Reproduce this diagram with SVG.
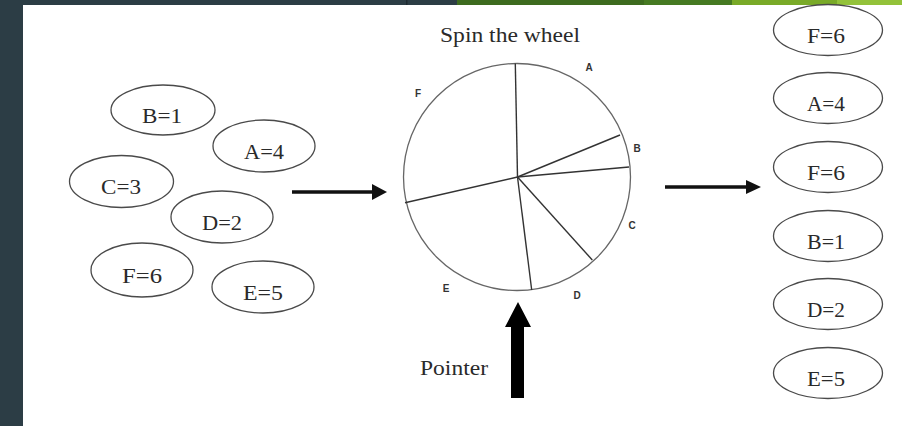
<svg xmlns="http://www.w3.org/2000/svg" width="902" height="426" viewBox="0 0 902 426">
<defs>
<style>
.el{fill:#fff;stroke:#4a4a4a;stroke-width:1.3}
.lb{font-family:"Liberation Serif","Times New Roman",serif;font-size:20px;fill:#2a2a2a;text-anchor:middle}
.wl{font-family:"Liberation Sans",Arial,sans-serif;font-size:10px;font-weight:bold;fill:#333;text-anchor:middle}
.sp{stroke:#333;stroke-width:1.4}
.ar{stroke:#111;stroke-width:3.5;fill:none}
.hd{fill:#111}
</style>
</defs>
<rect x="0" y="0" width="902" height="426" fill="#fff"/>
<rect x="0" y="0" width="23" height="426" fill="#2c3d45"/>
<rect x="0" y="0" width="457" height="5" fill="#2c3d45"/>
<rect x="406" y="0" width="1.5" height="5" fill="#1e2a30"/>
<rect x="457" y="0" width="187" height="5" fill="#3d6b1f"/>
<rect x="644" y="0" width="88" height="5" fill="#467a22"/>
<rect x="732" y="0" width="105" height="5" fill="#79aa28"/>
<rect x="837" y="0" width="65" height="5" fill="#93c23a"/>

<text class="lb" x="510" y="42" textLength="140" lengthAdjust="spacingAndGlyphs">Spin the wheel</text>

<g id="wheel">
<circle cx="517" cy="177" r="113.5" fill="#fff" stroke="#666" stroke-width="1.3"/>
<line class="sp" x1="517.5" y1="177" x2="515.3" y2="63.5"/>
<line class="sp" x1="517.5" y1="177" x2="620" y2="135"/>
<line class="sp" x1="517.5" y1="177" x2="629" y2="167"/>
<line class="sp" x1="517.5" y1="177" x2="592.3" y2="260"/>
<line class="sp" x1="517.5" y1="177" x2="531.7" y2="290"/>
<line class="sp" x1="517.5" y1="177" x2="405" y2="202.7"/>
<text class="wl" x="589" y="71">A</text>
<text class="wl" x="418" y="97">F</text>
<text class="wl" x="637" y="152">B</text>
<text class="wl" x="632" y="229">C</text>
<text class="wl" x="577" y="299">D</text>
<text class="wl" x="446" y="292">E</text>
</g>

<g id="in-b1"><ellipse class="el" cx="163" cy="110" rx="52" ry="25"/><text class="lb" x="162" y="123" textLength="40" lengthAdjust="spacingAndGlyphs">B=1</text></g>
<g id="in-a4"><ellipse class="el" cx="264" cy="146" rx="51" ry="26"/><text class="lb" x="264" y="159" textLength="40" lengthAdjust="spacingAndGlyphs">A=4</text></g>
<g id="in-c3"><ellipse class="el" cx="121.5" cy="181.5" rx="52" ry="26"/><text class="lb" x="121" y="194" textLength="40" lengthAdjust="spacingAndGlyphs">C=3</text></g>
<g id="in-d2"><ellipse class="el" cx="222" cy="217" rx="51" ry="26"/><text class="lb" x="222" y="230" textLength="40" lengthAdjust="spacingAndGlyphs">D=2</text></g>
<g id="in-f6"><ellipse class="el" cx="142" cy="270" rx="51" ry="27"/><text class="lb" x="142" y="283" textLength="40" lengthAdjust="spacingAndGlyphs">F=6</text></g>
<g id="in-e5"><ellipse class="el" cx="263" cy="287" rx="51" ry="26"/><text class="lb" x="263" y="300" textLength="40" lengthAdjust="spacingAndGlyphs">E=5</text></g>

<g id="out-1"><ellipse class="el" cx="828" cy="30" rx="54.5" ry="25.5"/><text class="lb" x="826" y="43" textLength="38" lengthAdjust="spacingAndGlyphs">F=6</text></g>
<g id="out-2"><ellipse class="el" cx="828" cy="98" rx="54.5" ry="25.5"/><text class="lb" x="826" y="111" textLength="38" lengthAdjust="spacingAndGlyphs">A=4</text></g>
<g id="out-3"><ellipse class="el" cx="828" cy="167" rx="54.5" ry="25.5"/><text class="lb" x="826" y="180" textLength="38" lengthAdjust="spacingAndGlyphs">F=6</text></g>
<g id="out-4"><ellipse class="el" cx="828" cy="236" rx="54.5" ry="25.5"/><text class="lb" x="826" y="249" textLength="38" lengthAdjust="spacingAndGlyphs">B=1</text></g>
<g id="out-5"><ellipse class="el" cx="828" cy="304" rx="54.5" ry="25.5"/><text class="lb" x="826" y="317" textLength="38" lengthAdjust="spacingAndGlyphs">D=2</text></g>
<g id="out-6"><ellipse class="el" cx="828" cy="373" rx="54.5" ry="25.5"/><text class="lb" x="826" y="386" textLength="38" lengthAdjust="spacingAndGlyphs">E=5</text></g>

<g id="pointer">
<polygon points="511,327 505,327 518,302 531,327 524,327 524,398 511,398" fill="#000"/>
<text class="lb" x="454" y="375" textLength="68" lengthAdjust="spacingAndGlyphs">Pointer</text>
</g>

<g id="connectors">
<line class="ar" x1="292" y1="192" x2="376" y2="192"/>
<path class="hd" d="M372,184 L387,192 L372,200 z"/>
<line class="ar" x1="665" y1="187" x2="750" y2="187"/>
<path class="hd" d="M746,180 L761,187 L746,194 z"/>
</g>
</svg>
